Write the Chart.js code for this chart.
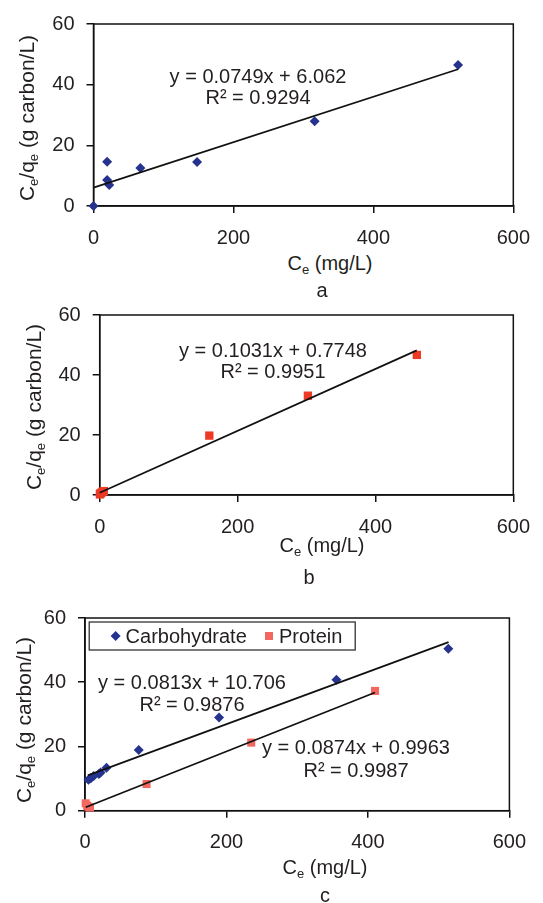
<!DOCTYPE html>
<html>
<head>
<meta charset="utf-8">
<script src="https://cdn.jsdelivr.net/npm/chart.js@4.4.1/dist/chart.umd.min.js"></script>
<style>
  html, body { margin: 0; padding: 0; background: #fff; }
  body { width: 543px; height: 903px; position: relative; overflow: hidden;
         font-family: "Liberation Sans", Arial, sans-serif; color: #231f20; }
  canvas { position: absolute; left: 0; }
  .txt { position: absolute; font-size: 20px; line-height: 1; white-space: nowrap;
         transform: translate(-50%, -50%); }
  .ytitle { font-size: 21px; transform: translate(-50%, -50%) rotate(-90deg); }
  sub { font-size: 13px; vertical-align: -4px; line-height: 0; }
</style>
</head>
<body>
<canvas id="chartA" width="543" height="250" style="top:0px"></canvas>
<canvas id="chartB" width="543" height="250" style="top:290px"></canvas>
<canvas id="chartC" width="543" height="270" style="top:590px"></canvas>

<!-- axis titles, equations, panel letters -->
<div class="txt ytitle" style="left:26px; top:118px">C<sub>e</sub>/q<sub>e</sub> (g carbon/L)</div>
<div class="txt" style="left:330px; top:263px">C<sub>e</sub> (mg/L)</div>
<div class="txt" style="left:322px; top:290px">a</div>
<div class="txt" id="eqA1" style="left:258px; top:76px"></div>
<div class="txt" id="eqA2" style="left:258px; top:97px"></div>

<div class="txt ytitle" style="left:33px; top:407px">C<sub>e</sub>/q<sub>e</sub> (g carbon/L)</div>
<div class="txt" style="left:322px; top:545px">C<sub>e</sub> (mg/L)</div>
<div class="txt" style="left:309px; top:577px">b</div>
<div class="txt" id="eqB1" style="left:273px; top:350px"></div>
<div class="txt" id="eqB2" style="left:273px; top:371px"></div>

<div class="txt ytitle" style="left:23px; top:720px">C<sub>e</sub>/q<sub>e</sub> (g carbon/L)</div>
<div class="txt" style="left:325px; top:867px">C<sub>e</sub> (mg/L)</div>
<div class="txt" style="left:325px; top:895px">c</div>
<div class="txt" id="eqC1" style="left:192px; top:682px"></div>
<div class="txt" id="eqC2" style="left:192px; top:704px"></div>
<div class="txt" id="eqC3" style="left:356px; top:747px"></div>
<div class="txt" id="eqC4" style="left:356px; top:770px"></div>

<script>
// ---- data ----
const xTicks = [0, 200, 400, 600];
const yTicks = [0, 20, 40, 60];

// panel a
const aCe = [0, 19.5, 19.5, 22.5, 67, 148, 316, 521];
const aRatio = [0, 14.6, 8.6, 6.9, 12.5, 14.5, 27.9, 46.5];
const aFitX = [0, 521];
const aFitY = [6.06, 45.1];
const aEq = ['y = 0.0749x + 6.062', 'R² = 0.9294'];

// panel b
const bCe = [0.3, 1, 2, 4, 6, 159, 302, 460];
const bRatio = [0.2, 0.5, 0.7, 1.0, 1.3, 19.8, 33.1, 46.7];
const bFitX = [0, 460];
const bFitY = [0.77, 48.2];
const bEq = ['y = 0.1031x + 0.7748', 'R² = 0.9951'];

// panel c
const seriesNames = ['Carbohydrate', 'Protein'];
const carbCe = [4.9, 8.3, 12.3, 19.6, 22, 30.4, 76, 189.5, 355.5, 513.6];
const carbRatio = [9.6, 10.1, 10.8, 11.4, 11.9, 13.4, 18.9, 29, 40.8, 50.4];
const carbFitX = [4, 514];
const carbFitY = [11.0, 52.5];
const carbEq = ['y = 0.0813x + 10.706', 'R² = 0.9876'];
const protCe = [1, 3, 5, 7, 87, 235, 410];
const protRatio = [2.3, 1.6, 1.2, 1.0, 8.3, 21.2, 37.3];
const protFitX = [1, 410];
const protFitY = [1.08, 36.8];
const protEq = ['y = 0.0874x + 0.9963', 'R² = 0.9987'];

const COLORS = {
  navy: '#25338f',
  red: '#ec3a24',
  salmon: '#f26861',
  ink: '#231f20',
};
const FONT = "'Liberation Sans', Arial, sans-serif";

function pts(xs, ys) {
  return xs.map((x, i) => ({ x: x, y: ys[i] }));
}

function scatterSet(label, xs, ys, color, style, radius) {
  return {
    type: 'scatter',
    label: label,
    data: pts(xs, ys),
    pointStyle: style,
    pointRadius: radius,
    pointBackgroundColor: color,
    pointBorderWidth: 0,
    borderColor: color,
    clip: false,
    order: 1,
  };
}

function fitSet(xs, ys) {
  return {
    type: 'line',
    data: pts(xs, ys),
    borderColor: '#111',
    borderWidth: 1.7,
    pointRadius: 0,
    fill: false,
    clip: false,
    order: 0,
  };
}

// box round the plot area, like the Excel plot frame
const framePlugin = {
  id: 'frame',
  beforeDatasetsDraw(chart) {
    const { ctx, chartArea: a } = chart;
    ctx.save();
    ctx.strokeStyle = '#111';
    ctx.lineWidth = 1.5;
    ctx.strokeRect(a.left, a.top, a.right - a.left, a.bottom - a.top);
    ctx.restore();
  },
};

// framed legend drawn inside the plot area (panel c)
const boxLegendPlugin = {
  id: 'boxLegend',
  afterDraw(chart, args, opts) {
    if (!opts || !opts.show) return;
    const ctx = chart.ctx;
    const { left, top, width, height, itemX } = opts;
    ctx.save();
    ctx.fillStyle = '#fff';
    ctx.fillRect(left, top, width, height);
    ctx.strokeStyle = '#222';
    ctx.lineWidth = 1.2;
    ctx.strokeRect(left, top, width, height);
    const cy = top + height / 2;
    const sets = chart.data.datasets.filter(d => d.label);
    sets.forEach((d, i) => {
      const cx = left + itemX[i];
      const r = d.pointRadius;
      ctx.fillStyle = d.pointBackgroundColor;
      ctx.beginPath();
      if (d.pointStyle === 'rectRot') {
        ctx.moveTo(cx, cy - r);
        ctx.lineTo(cx + r, cy);
        ctx.lineTo(cx, cy + r);
        ctx.lineTo(cx - r, cy);
      } else {
        const h = r * Math.SQRT1_2;
        ctx.rect(cx - h, cy - h, 2 * h, 2 * h);
      }
      ctx.closePath();
      ctx.fill();
      ctx.fillStyle = COLORS.ink;
      ctx.font = `20px ${FONT}`;
      ctx.textBaseline = 'middle';
      ctx.textAlign = 'left';
      ctx.fillText(d.label, cx + 10, cy + 1);
    });
    ctx.restore();
  },
};

/**
 * Build one isotherm panel
 * @param {string} canvasId - canvas element id
 * @param {Array} datasets - chart datasets
 * @param {Object} box - plot area placement inside the canvas
 * @param {Object} legend - options for the framed legend
 */
function buildPanel(canvasId, datasets, box, legend) {
  const ctx = document.getElementById(canvasId);
  const axisGrid = {
    display: true,
    drawOnChartArea: false,
    drawTicks: true,
    tickLength: 7,
    color: '#111',
    lineWidth: 1.5,
  };
  const tickFont = { family: FONT, size: 20 };
  return new Chart(ctx, {
    type: 'scatter',
    data: { datasets: datasets },
    options: {
      responsive: false,
      animation: false,
      devicePixelRatio: 1,
      layout: { padding: { top: box.top, right: box.right, left: 0, bottom: 0 } },
      plugins: {
        legend: { display: false },
        tooltip: { enabled: false },
        boxLegend: legend || { show: false },
      },
      scales: {
        x: {
          type: 'linear',
          min: xTicks[0],
          max: xTicks[xTicks.length - 1],
          afterBuildTicks: s => { s.ticks = xTicks.map(v => ({ value: v })); },
          afterFit: s => { s.height = box.xHeight; },
          grid: axisGrid,
          border: { display: true, color: '#111', width: 1.5 },
          ticks: { color: COLORS.ink, font: tickFont, padding: 13, maxRotation: 0 },
        },
        y: {
          type: 'linear',
          min: yTicks[0],
          max: yTicks[yTicks.length - 1],
          afterBuildTicks: s => { s.ticks = yTicks.map(v => ({ value: v })); },
          afterFit: s => { s.width = box.left; },
          grid: axisGrid,
          border: { display: true, color: '#111', width: 1.5 },
          ticks: { color: COLORS.ink, font: tickFont, padding: 12 },
        },
      },
    },
    plugins: [framePlugin, boxLegendPlugin],
  });
}

function setEq(ids, lines) {
  ids.forEach((id, i) => { document.getElementById(id).textContent = lines[i]; });
}

buildPanel('chartA', [
  fitSet(aFitX, aFitY),
  scatterSet('', aCe, aRatio, COLORS.navy, 'rectRot', 5),
], { top: 20, right: 23, left: 93.5, xHeight: 44 });

buildPanel('chartB', [
  fitSet(bFitX, bFitY),
  scatterSet('', bCe, bRatio, COLORS.red, 'rect', 5.9),
], { top: 25, right: 24, left: 99.7, xHeight: 45 });

buildPanel('chartC', [
  fitSet(carbFitX, carbFitY),
  fitSet(protFitX, protFitY),
  scatterSet(seriesNames[0], carbCe, carbRatio, COLORS.navy, 'rectRot', 5),
  scatterSet(seriesNames[1], protCe, protRatio, COLORS.salmon, 'rect', 5.7),
], { top: 28, right: 33.6, left: 85, xHeight: 49.3 },
{ show: true, left: 89.2, top: 32, width: 266, height: 28, itemX: [26.4, 179.8] });

setEq(['eqA1', 'eqA2'], aEq);
setEq(['eqB1', 'eqB2'], bEq);
setEq(['eqC1', 'eqC2'], carbEq);
setEq(['eqC3', 'eqC4'], protEq);
</script>
</body>
</html>
